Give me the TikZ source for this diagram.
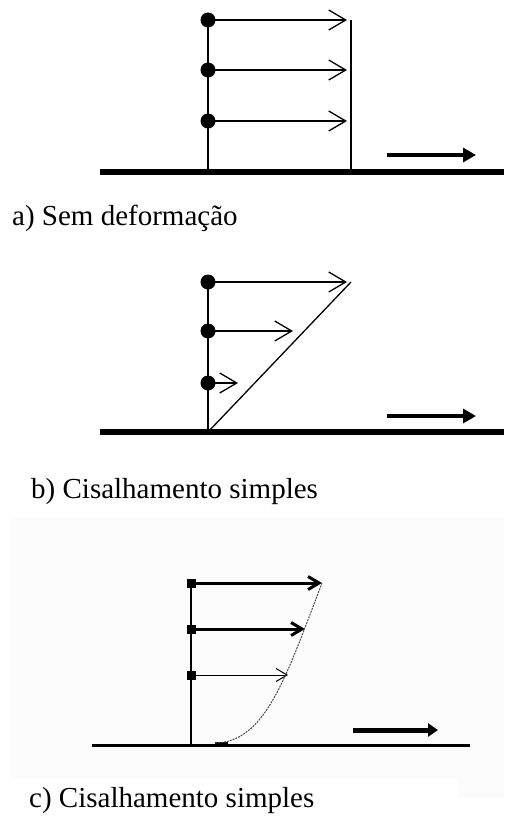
\documentclass[tikz,border=0pt]{standalone}
\usepackage{fontspec}
\setmainfont{Liberation Serif}
\usepackage{tikz}
\usetikzlibrary{arrows.meta}

\begin{document}
\begin{tikzpicture}[x=1pt, y=-1pt,
  dot/.style={circle, fill, inner sep=0pt, minimum size=15pt},
  sq/.style={rectangle, fill, inner sep=0pt, minimum size=9pt},
  vec/.style={-{Straight Barb[length=17pt, width=20pt]}, line width=1.3pt},
  stem/.style={line width=2pt},
  ground/.style={line width=6pt},
  push/.style={-{Triangle[length=13pt, width=14pt]}, line width=3.5pt},
  caption/.style={anchor=base west, inner sep=0pt, font=\fontsize{29}{35}\selectfont}]
  \useasboundingbox (0,0) rectangle (504,820);

  % a) sem deformacao
  \draw[ground] (100,172) -- (504,172);
  \coordinate (a0) at (208,172);
  \foreach \i/\y in {1/20,2/70,3/121} {
    \node[dot] (a\i) at (208,\y) {};
    \coordinate (a\i e) at (347,\y);
    \draw[vec] (a\i.center) -- (a\i e);
  }
  \draw[stem] (a0) -- (a1.center);
  \coordinate (aw0) at (351,172);
  \coordinate (aw1) at (351,20);
  \draw[stem] (aw0) -- (aw1);
  \coordinate (ap0) at (387,155);
  \coordinate (ap1) at (476,155);
  \draw[push] (ap0) -- (ap1);
  \node[caption] (capa) at (12,225) {a) Sem deformação};

  % b) cisalhamento simples
  \draw[ground] (100,432) -- (504,432);
  \coordinate (b0) at (208,432);
  \foreach \i/\y/\u in {1/282/347,2/331/293,3/383/238} {
    \node[dot] (b\i) at (208,\y) {};
    \coordinate (b\i e) at (\u,\y);
    \draw[vec] (b\i.center) -- (b\i e);
  }
  \draw[stem] (b0) -- (b1.center);
  \coordinate (bw1) at (351,282);
  \draw[line width=1.3pt] (b0) -- (bw1);
  \coordinate (bp0) at (387,416);
  \coordinate (bp1) at (476,416);
  \draw[push] (bp0) -- (bp1);
  \node[caption] (capb) at (31,498) {b) Cisalhamento simples};

  % c) perfil real (fundo cinza claro)
  \fill[black!1] (10,518) rectangle (504,778);
  \fill[black!1] (458,778) rectangle (504,798);
  \draw[line width=3pt] (92,745) -- (470,745);
  \coordinate (c0) at (191,745);
  \node[sq] (c1) at (191,583) {};
  \node[sq] (c2) at (191,629) {};
  \node[sq] (c3) at (191,675) {};
  \draw[line width=1.5pt] (c0) -- (c1.center);
  \coordinate (c1e) at (322,583);
  \coordinate (c2e) at (305,629);
  \coordinate (c3e) at (288,675);
  \draw[-{Straight Barb[length=11pt, width=13pt]}, line width=3pt] (c1.center) -- (c1e);
  \draw[-{Straight Barb[length=11pt, width=13pt]}, line width=3pt] (c2.center) -- (c2e);
  \draw[-{Straight Barb[length=11pt, width=13pt]}, line width=1pt] (c3.center) -- (c3e);
  \coordinate (cs0) at (215,743);
  \coordinate (cs1) at (228,743);
  \draw[line width=2.5pt] (cs0) -- (cs1);
  \draw[black!70, line width=1pt, dash pattern=on 2pt off 1pt]
    (cs0) .. controls (265,742) and (285,680) .. (c1e);
  \coordinate (cp0) at (353,730);
  \coordinate (cp1) at (438,730);
  \draw[-{Triangle[length=10pt, width=13pt]}, line width=5pt] (cp0) -- (cp1);
  \node[caption] (capc) at (29,807) {c) Cisalhamento simples};
\end{tikzpicture}
\end{document}
